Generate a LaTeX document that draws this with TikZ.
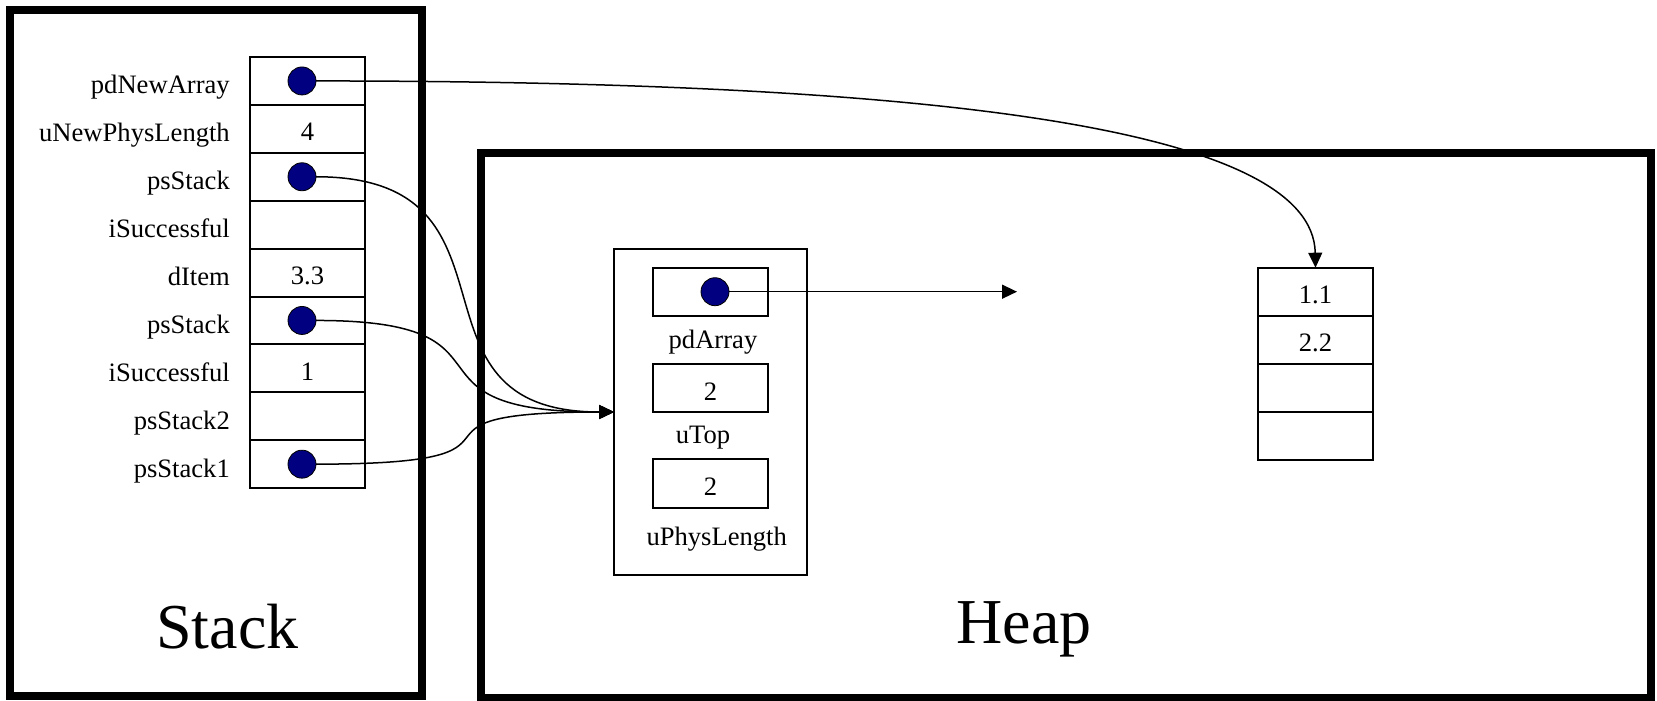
\documentclass[tikz,border=0pt]{standalone}
\usepackage{fontspec}
\setmainfont{Liberation Serif}
\usetikzlibrary{arrows.meta}
\definecolor{dotblue}{RGB}{0,0,128}
\begin{document}
\begin{tikzpicture}[x=1pt,y=-1pt,
  frame/.style={draw, line width=8pt, inner sep=0pt, outer sep=0pt},
  cell/.style={draw, line width=1.8pt, minimum width=115.6pt, minimum height=48.1pt,
    inner sep=0pt, outer sep=0pt, text height=24pt, text depth=0pt,
    font=\fontsize{26.6}{30}\selectfont},
  sbox/.style={draw, line width=1.8pt, inner sep=0pt, outer sep=0pt},
  ptr/.style={circle, draw=black, line width=0.8pt, fill=dotblue, minimum size=28pt, inner sep=0pt, outer sep=0pt},
  lbl/.style={font=\fontsize{26.6}{30}\selectfont, inner sep=0pt},
  big/.style={font=\fontsize{64}{70}\selectfont, inner sep=0pt},
  conn/.style={line width=1.5pt, -{Triangle[length=15pt,width=14pt]}}
]
\useasboundingbox (0,0) rectangle (1657,701);

% frames
\node[frame, minimum width=412pt, minimum height=685.8pt] (stackframe) at (216,352.6) {};
\node[frame, minimum width=1170.9pt, minimum height=544.5pt] (heapframe) at (1066,425.25) {};
\node[big, anchor=base] (stacklbl) at (227.5,648) {Stack};
\node[big, anchor=base] (heaplbl) at (1024,643) {Heap};

% stack cells
\node[cell] (s0) at (307.5,80.95) {};
\node[cell] (s1) at (307.5,128.85) {4};
\node[cell] (s2) at (307.5,176.75) {};
\node[cell] (s3) at (307.5,224.65) {};
\node[cell] (s4) at (307.5,272.55) {3.3};
\node[cell] (s5) at (307.5,320.45) {};
\node[cell] (s6) at (307.5,368.35) {1};
\node[cell] (s7) at (307.5,416.25) {};
\node[cell] (s8) at (307.5,464.15) {};

% stack labels
\node[lbl, anchor=base east] (l0) at (230,93.95) {pdNewArray};
\node[lbl, anchor=base east] (l1) at (230,141.85) {uNewPhysLength};
\node[lbl, anchor=base east] (l2) at (230,189.75) {psStack};
\node[lbl, anchor=base east] (l3) at (230,237.65) {iSuccessful};
\node[lbl, anchor=base east] (l4) at (230,285.55) {dItem};
\node[lbl, anchor=base east] (l5) at (230,333.45) {psStack};
\node[lbl, anchor=base east] (l6) at (230,381.35) {iSuccessful};
\node[lbl, anchor=base east] (l7) at (230,429.25) {psStack2};
\node[lbl, anchor=base east] (l8) at (230,477.15) {psStack1};

% pointer dots on the stack
\node[ptr] (d0) at (302,80.95) {};
\node[ptr] (d2) at (302,176.75) {};
\node[ptr] (d5) at (302,320.45) {};
\node[ptr] (d8) at (302,464.15) {};

% struct on the heap
\node[sbox, minimum width=192.7pt, minimum height=326pt] (struct) at (710.35,412) {};
\node[cell, minimum height=48.3pt] (f0) at (710.5,291.85) {};
\node[cell, minimum height=48.3pt] (f1) at (710.5,388.15) {2};
\node[cell, minimum height=48.3pt] (f2) at (710.5,483.5) {2};
\node[lbl, anchor=base] (fl0) at (713,348.3) {pdArray};
\node[lbl, anchor=base] (fl1) at (703,443) {uTop};
\node[lbl, anchor=base] (fl2) at (716.7,545) {uPhysLength};
\node[ptr] (pa) at (715,291.7) {};
\coordinate (nulltip) at (1017,291.7);

% array on the heap
\node[cell] (h0) at (1315.5,291.75) {1.1};
\node[cell] (h1) at (1315.5,339.85) {2.2};
\node[cell] (h2) at (1315.5,387.95) {};
\node[cell] (h3) at (1315.5,436.05) {};

% connectors
\draw[conn] (d0.east) .. controls (950,81) and (1313,130) .. (h0.north);
\draw[conn] (d2.east) .. controls (538,176.75) and (391,412) .. (struct.west);
\draw[conn] (d5.east) .. controls (533,320.45) and (386,412) .. (struct.west);
\draw[conn] (d8.east) .. controls (569,464.15) and (369,412) .. (struct.west);
\draw[conn] (pa.east) -- (nulltip);
\end{tikzpicture}
\end{document}
